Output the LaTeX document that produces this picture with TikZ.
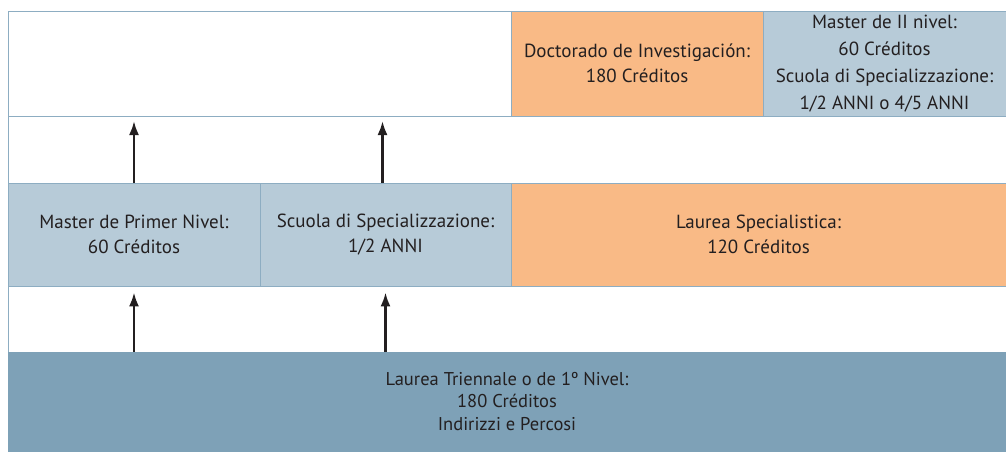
\documentclass[tikz,border=0pt]{standalone}
\usepackage{fontspec}
\setmainfont{PT Sans}
\usetikzlibrary{arrows.meta}
\definecolor{framec}{HTML}{8DADC2}
\definecolor{paleblue}{HTML}{B7CBD8}
\definecolor{paleorange}{HTML}{F9BA86}
\definecolor{darkblue}{HTML}{7EA1B7}
\definecolor{inkc}{HTML}{231F20}
\tikzset{
  box/.style={draw=framec,line width=0.8pt,rectangle,inner sep=0pt,align=center,
    text=inkc,font=\fontsize{19}{25}\selectfont},
  arr/.style={-{Latex[length=14pt,width=10pt]},line width=2.4pt,draw=inkc}
}
\begin{document}
\begin{tikzpicture}[x=1pt,y=1pt]
  \useasboundingbox (0,0) rectangle (1006,451);
  % frame and row lines
  \draw[framec,line width=0.8pt] (8,0) rectangle (1006,440);
  \coordinate (upper) at (8,335);
  \coordinate (lower) at (8,165);
  \draw[framec,line width=0.8pt] (upper) -- (1006,335);
  \draw[framec,line width=0.8pt] (lower) -- (1006,165);
  \begin{scope}[every node/.style={box}]
    % top row
    \node[fill=paleorange,minimum width=252pt,minimum height=105pt] (doct) at (637,387.5)
      {Doctorado de Investigación:\\180 Créditos};
    \node[fill=paleblue,minimum width=243pt,minimum height=105pt,
      font=\fontsize{19}{27}\selectfont] (mast2) at (884.5,387.5)
      {Master de II nivel:\\60 Créditos\\Scuola di Specializzazione:\\1/2 ANNI o 4/5 ANNI};
    % middle row
    \node[fill=paleblue,minimum width=252pt,minimum height=103pt] (prim) at (134,216.5)
      {Master de Primer Nivel:\\60 Créditos};
    \node[fill=paleblue,minimum width=251pt,minimum height=103pt] (scuola) at (385.5,216.5)
      {Scuola di Specializzazione:\\1/2 ANNI};
    \node[fill=paleorange,minimum width=495pt,minimum height=103pt] (lspec) at (758.5,216.5)
      {Laurea Specialistica:\\120 Créditos};
    % bottom row
    \node[fill=darkblue,draw=darkblue,minimum width=998pt,minimum height=99pt,
      font=\fontsize{18.5}{22.5}\selectfont] (tri) at (507,49.5)
      {Laurea Triennale o de 1º Nivel:\\180 Créditos\\Indirizzi e Percosi};
  \end{scope}
  % arrows
  \draw[arr] (tri.north -| prim) -- ([yshift=-6pt]prim.south);
  \draw[arr] (tri.north -| scuola) -- ([yshift=-6pt]scuola.south);
  \draw[arr] (prim.north) -- ([yshift=-5pt]upper -| prim);
  \draw[arr] ([xshift=-3pt]scuola.north) -- ([yshift=-5pt,xshift=-3pt]upper -| scuola);
\end{tikzpicture}
\end{document}
